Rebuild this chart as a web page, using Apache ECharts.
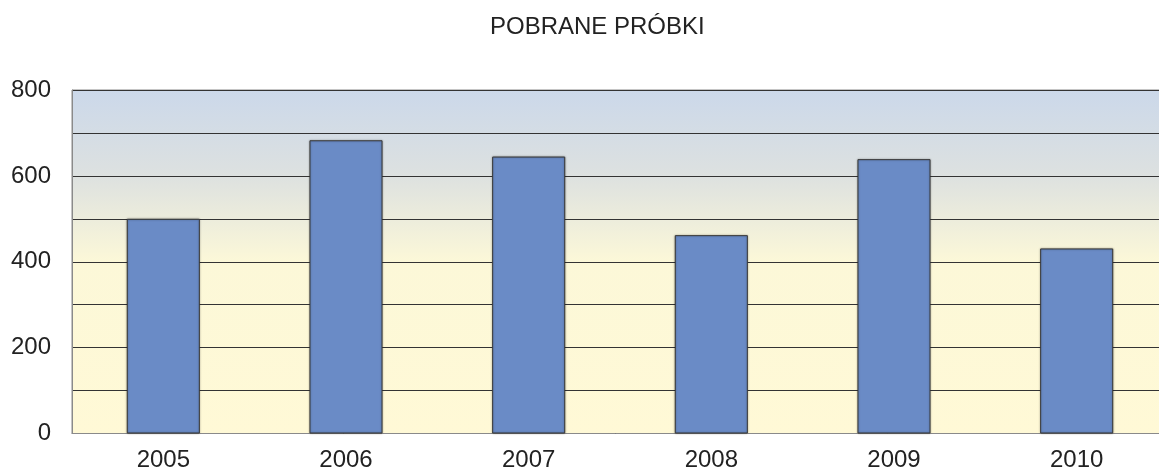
<!DOCTYPE html>
<html>
<head>
<meta charset="utf-8">
<script src="https://cdn.jsdelivr.net/npm/echarts@6/dist/echarts.min.js"></script>
<style>
  html, body { margin: 0; padding: 0; background: #fff; }
  #chart { width: 1159px; height: 472px; }
</style>
</head>
<body>
<div id="chart"></div>
<script>
// dane wykresu
const years = ['2005', '2006', '2007', '2008', '2009', '2010'];
const samples = [500, 683, 645, 462, 639, 431];
const yTickLabels = ['0', '200', '400', '600', '800'];

const myChart = echarts.init(document.getElementById('chart'));
const font = '"Liberation Sans", Arial, sans-serif';

const options = {
    animation: false,
    title: {
        text: 'POBRANE PRÓBKI',
        left: 485,
        top: 10,
        textStyle: {
            fontFamily: font,
            fontSize: 24,
            fontWeight: 'normal',
            color: '#222'
        }
    },
    grid: {
        left: 72,
        top: 90,
        width: 1096,
        height: 343.5,
        outerBoundsMode: 'none',
        containLabel: false,
        show: true,
        borderColor: '#8a8a8a',
        borderWidth: 1,
        // tło: niebieski u góry -> żółty od 400 w dół
        backgroundColor: new echarts.graphic.LinearGradient(0, 0, 0, 1, [
            { offset: 0, color: '#cbd8ea' },
            { offset: 0.25, color: '#dde1e0' },
            { offset: 0.5, color: '#fcf8d8' },
            { offset: 1, color: '#fff9d6' }
        ])
    },
    xAxis: {
        type: 'category',
        data: years,
        axisLine: { lineStyle: { color: '#8a8a8a', width: 1 } },
        axisTick: { show: false },
        axisLabel: {
            color: '#222',
            fontFamily: font,
            fontSize: 24,
            margin: 15
        }
    },
    yAxis: {
        type: 'value',
        min: 0,
        max: 800,
        interval: 100,
        axisLine: { show: true, lineStyle: { color: '#8a8a8a', width: 1 } },
        axisTick: { show: false },
        splitLine: { lineStyle: { color: '#333', width: 1 } },
        axisLabel: {
            color: '#222',
            fontFamily: font,
            fontSize: 24,
            margin: 21,
            formatter: v => yTickLabels.includes(String(v)) ? String(v) : ''
        }
    },
    series: [
        {
            type: 'bar',
            data: samples,
            barWidth: '40%',
            itemStyle: {
                color: '#6a8bc6',
                borderColor: '#3a3a3a',
                borderWidth: 1,
                shadowColor: 'rgba(0,0,0,0.35)',
                shadowBlur: 2
            }
        }
    ]
};
myChart.setOption(options);
</script>
</body>
</html>
